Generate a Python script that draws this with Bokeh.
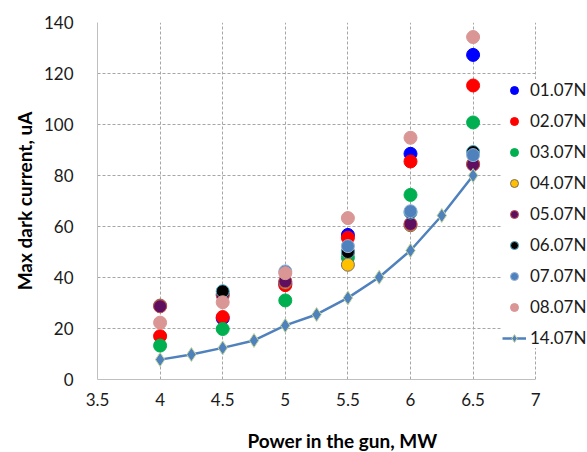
from bokeh.plotting import figure
from bokeh.models import ColumnDataSource, FixedTicker, Legend, LegendItem
from bokeh.embed import file_html
from bokeh.resources import INLINE

nan = float("nan")

# ---- data ----
power = [4.0, 4.5, 5.0, 5.5, 6.0, 6.5]
s01 = [nan, 24.0, 37.5, 56.7, 88.5, 127.3]
s02 = [17.0, 24.5, 37.0, 55.6, 85.5, 115.3]
s03 = [13.3, 19.8, 31.0, 47.8, 72.4, 100.8]
s04 = [29.0, 33.5, 38.0, 45.0, 60.5, 84.6]
s05 = [28.7, 33.0, 38.5, 50.0, 61.0, 84.3]
s06 = [nan, 34.6, nan, 50.0, 65.5, 89.2]
s07 = [nan, nan, 42.4, 52.3, 66.0, 88.0]
s08 = [22.3, 30.3, 41.7, 63.3, 94.8, 134.3]

power_14 = [4.0, 4.25, 4.5, 4.75, 5.0, 5.25, 5.5, 5.75, 6.0, 6.25, 6.5]
s14 = [7.8, 9.8, 12.4, 15.3, 21.2, 25.5, 32.0, 40.1, 50.6, 64.3, 80.0]

series_names = ["01.07N", "02.07N", "03.07N", "04.07N", "05.07N",
                "06.07N", "07.07N", "08.07N"]
series_values = [s01, s02, s03, s04, s05, s06, s07, s08]
series_fill = ["#0000FF", "#FF0000", "#00B050", "#FFC000", "#5F0F5F",
               "#000000", "#4F81BD", "#D99694"]
series_line = ["#0000FF", "#FF0000", "#00B050", "#7F6A5F", "#C0504D",
               "#4BACC6", "#95B3D7", "#D99694"]
line_name = "14.07N"

x_ticks = [3.5, 4.0, 4.5, 5.0, 5.5, 6.0, 6.5, 7.0]
x_tick_labels = ["3.5", "4", "4.5", "5", "5.5", "6", "6.5", "7"]
y_ticks = [0, 20, 40, 60, 80, 100, 120, 140]

FONT = "Lato"
PX_PER_UNIT = 125.2
FRAME_W = 490

p = figure(frame_width=FRAME_W, frame_height=357,
           x_range=(3.5, 3.5 + FRAME_W / PX_PER_UNIT), y_range=(0, 140),
           min_border_left=97, min_border_right=0,
           min_border_top=22, min_border_bottom=70,
           output_backend="svg", toolbar_location=None)
p.outline_line_color = None
p.background_fill_color = "white"
p.border_fill_color = "white"

items = []
for name, vals, fc, lc in zip(series_names, series_values, series_fill, series_line):
    src = ColumnDataSource(dict(x=power, y=vals))
    r = p.scatter("x", "y", source=src, size=13, marker="circle",
                  fill_color=fc, line_color=lc, line_width=1)
    items.append(LegendItem(label=name, renderers=[r]))

src14 = ColumnDataSource(dict(x=power_14, y=s14))
rl = p.line("x", "y", source=src14, line_color="#4F81BD", line_width=2.5)
rd = p.scatter("x", "y", source=src14, marker="diamond", size=14,
               fill_color="#4F81BD", line_color="#C3D69B", line_width=1)
items.append(LegendItem(label=line_name, renderers=[rl, rd]))

# axes
p.xaxis.ticker = FixedTicker(ticks=x_ticks)
p.yaxis.ticker = FixedTicker(ticks=y_ticks)
p.xaxis.bounds = (x_ticks[0], x_ticks[-1])
p.xaxis.major_label_overrides = {t: lab for t, lab in zip(x_ticks, x_tick_labels)}
for ax in (p.xaxis, p.yaxis):
    ax.major_tick_line_color = None
    ax.minor_tick_line_color = None
    ax.axis_line_color = "#BFBFBF"
    ax.axis_line_width = 1
    ax.major_label_text_font = FONT
    ax.major_label_text_font_size = "17px"
    ax.major_label_text_color = "#1a1a1a"
    ax.axis_label_text_font = FONT
    ax.axis_label_text_font_size = "19px"
    ax.axis_label_text_font_style = "bold"
    ax.axis_label_text_color = "#000000"

p.xaxis.axis_label = "Power in the gun, MW"
p.yaxis.axis_label = "Max dark current, uA"
p.xaxis.major_label_standoff = 7
p.yaxis.major_label_standoff = 18
p.xaxis.axis_label_standoff = 20
p.yaxis.axis_label_standoff = 5

p.xgrid.ticker = FixedTicker(ticks=x_ticks)
p.ygrid.ticker = FixedTicker(ticks=y_ticks)
p.ygrid.cross_bounds = (x_ticks[0], x_ticks[-1])
for g in (p.xgrid, p.ygrid):
    g.grid_line_color = "#A6A6A6"
    g.grid_line_dash = "3 2"
    g.grid_line_width = 1

legend = Legend(items=items, location=(405, 31))
legend.background_fill_color = "white"
legend.background_fill_alpha = 1.0
legend.border_line_color = None
legend.padding = 10
legend.margin = 0
legend.spacing = 10
legend.glyph_width = 24
legend.glyph_height = 20
legend.label_height = 20
legend.label_standoff = 4
legend.label_text_font = FONT
legend.label_text_font_size = "17px"
legend.label_text_color = "#1a1a1a"
p.add_layout(legend, "center")

open("out.html", "w").write(file_html(p, INLINE))
